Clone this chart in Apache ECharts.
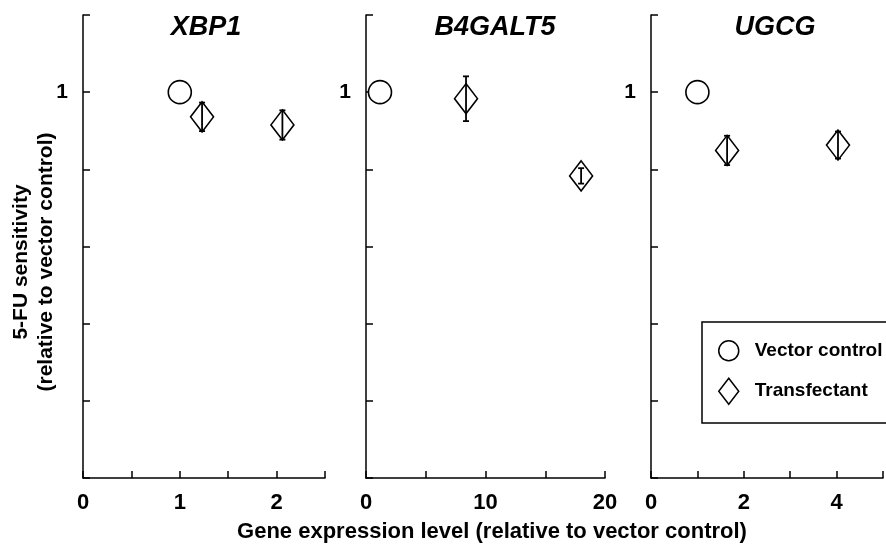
<!DOCTYPE html>
<html>
<head>
<meta charset="utf-8">
<script src="https://cdn.jsdelivr.net/npm/echarts@6/dist/echarts.min.js"></script>
<style>
  html, body { margin: 0; padding: 0; background: #fff; }
  #chart { width: 886px; height: 548px; }
</style>
</head>
<body>
<div id="chart"></div>
<script>
// panel data, one entry per gene
const genes = ["XBP1", "B4GALT5", "UGCG"];
const controlX = [1, 1.17, 1];
const controlY = [1, 1, 1];
const transX = [[1.23, 2.06], [8.37, 18.0], [1.64, 4.03]];
const transY = [[0.936, 0.915], [0.983, 0.783], [0.849, 0.863]];
const transErr = [[0.037, 0.038], [0.058, 0.02], [0.038, 0.035]];
const xMax = [2.5, 20, 5];
const xStep = [0.5, 5, 1];
const xTickLabels = [[0, 1, 2], [0, 10, 20], [0, 2, 4]];
const yTickLabels = [1];

const font = "Liberation Sans, Arial, Helvetica, sans-serif";
const gridLeft = [83, 366, 651];
const gridWidth = [242, 239, 242];

let myChart = echarts.init(document.getElementById("chart"));

let grids = [], xAxes = [], yAxes = [], titles = [], series = [];

genes.forEach((g, i) => {
  grids.push({ left: gridLeft[i], top: 15, width: gridWidth[i], height: 463 });
  titles.push({
    text: g,
    left: [206, 495, 775][i],
    top: 14,
    textAlign: "center",
    padding: 0,
    textStyle: { fontFamily: font, fontStyle: "italic", fontWeight: "bold", fontSize: 27, color: "#000" }
  });
  xAxes.push({
    type: "value",
    gridIndex: i,
    min: 0,
    max: xMax[i],
    interval: xStep[i],
    splitLine: { show: false },
    axisLine: { lineStyle: { color: "#000", width: 1.5 } },
    axisTick: { inside: true, length: 7, lineStyle: { color: "#000", width: 1.5 } },
    axisLabel: {
      margin: 14,
      color: "#000",
      fontFamily: font,
      fontWeight: "bold",
      fontSize: 22,
      showMaxLabel: true,
      formatter: v => (xTickLabels[i].indexOf(v) >= 0 ? String(v) : "")
    }
  });
  yAxes.push({
    type: "value",
    gridIndex: i,
    min: 0,
    max: 1.2,
    interval: 0.2,
    splitLine: { show: false },
    axisLine: { lineStyle: { color: "#000", width: 1.5 } },
    axisTick: { inside: true, length: 7, lineStyle: { color: "#000", width: 1.5 } },
    axisLabel: {
      margin: 15,
      color: "#000",
      fontFamily: font,
      fontWeight: "bold",
      fontSize: 21,
      padding: [4, 0, 0, 0],
      formatter: v => (yTickLabels.indexOf(Math.round(v * 10) / 10) >= 0 ? String(Math.round(v)) : "")
    }
  });

  series.push({
    name: "Vector control",
    type: "scatter",
    xAxisIndex: i,
    yAxisIndex: i,
    symbol: "circle",
    symbolSize: 23,
    itemStyle: { color: "#fff", borderColor: "#000", borderWidth: 1.6, opacity: 1 },
    data: [[controlX[i], controlY[i]]],
    z: 3
  });
  series.push({
    name: "Transfectant",
    type: "scatter",
    xAxisIndex: i,
    yAxisIndex: i,
    symbol: "diamond",
    symbolSize: [23, 30],
    itemStyle: { color: "#fff", borderColor: "#000", borderWidth: 1.6, opacity: 1 },
    data: transX[i].map((x, k) => [x, transY[i][k]]),
    z: 3
  });
  // error bars drawn on top of the diamonds
  series.push({
    name: "err" + i,
    type: "custom",
    xAxisIndex: i,
    yAxisIndex: i,
    z: 4,
    silent: true,
    encode: { x: 0, y: 1 },
    data: transX[i].map((x, k) => [x, transY[i][k], transErr[i][k]]),
    renderItem: function (params, api) {
      let x = api.value(0), y = api.value(1), e = api.value(2);
      let top = api.coord([x, y + e]);
      let bot = api.coord([x, y - e]);
      let st = { stroke: "#000", lineWidth: 1.8 };
      return {
        type: "group",
        children: [
          { type: "line", shape: { x1: top[0], y1: top[1], x2: bot[0], y2: bot[1] }, style: st },
          { type: "line", shape: { x1: top[0] - 3, y1: top[1], x2: top[0] + 3, y2: top[1] }, style: st },
          { type: "line", shape: { x1: bot[0] - 3, y1: bot[1], x2: bot[0] + 3, y2: bot[1] }, style: st }
        ]
      };
    }
  });
});

myChart.setOption({
  animation: false,
  backgroundColor: "#fff",
  title: titles,
  grid: grids,
  xAxis: xAxes,
  yAxis: yAxes,
  legend: {
    data: [
      { name: "Vector control", icon: "circle" },
      { name: "Transfectant", icon: "path://M10,0L20,13L10,26L0,13Z" }
    ],
    orient: "vertical",
    left: 702,
    top: 322,
    itemWidth: 20,
    itemHeight: 26,
    itemGap: 16,
    symbolKeepAspect: true,
    padding: [18, 60, 18, 16],
    borderColor: "#000",
    borderWidth: 1.5,
    backgroundColor: "#fff",
    selectedMode: false,
    itemStyle: { color: "#fff", borderColor: "#000", borderWidth: 1.5 },
    formatter: name => "{t|" + name + "}",
    textStyle: {
      rich: { t: { padding: [0, 0, 0, 11], fontFamily: font, fontWeight: "bold", fontSize: 19, color: "#000" } }
    }
  },
  graphic: [
    {
      type: "text",
      x: 34,
      y: 262,
      rotation: Math.PI / 2,
      style: {
        text: "5-FU sensitivity\n(relative to vector control)",
        font: "bold 21px " + font,
        lineHeight: 25,
        fill: "#000",
        textAlign: "center",
        textVerticalAlign: "middle"
      }
    },
    {
      type: "text",
      x: 492,
      y: 532,
      style: {
        text: "Gene expression level (relative to vector control)",
        font: "bold 22px " + font,
        fill: "#000",
        textAlign: "center",
        textVerticalAlign: "middle"
      }
    }
  ],
  series: series
});
window.onresize = myChart.resize;
</script>
</body>
</html>
